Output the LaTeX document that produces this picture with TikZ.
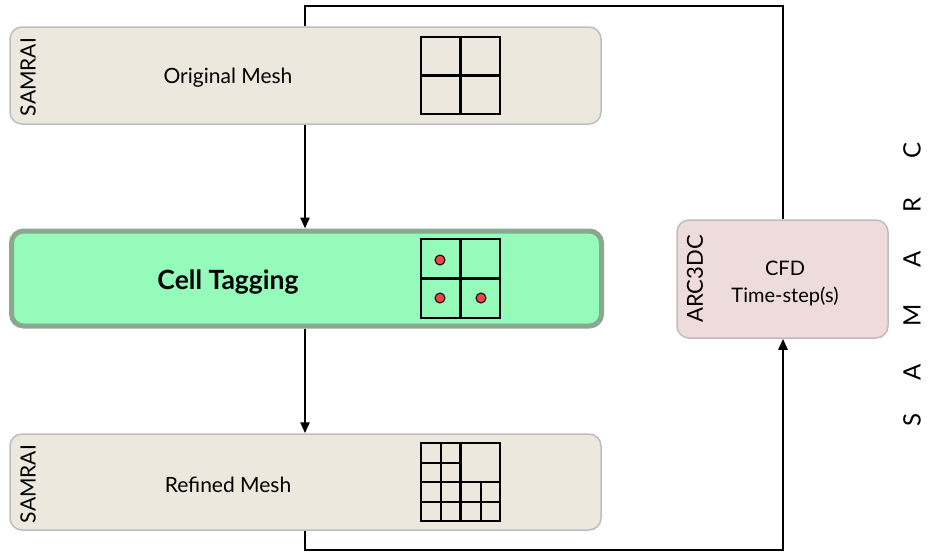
\documentclass[tikz,border=0pt]{standalone}
\usepackage{fontspec}
\setmainfont{Lato}
\usetikzlibrary{arrows.meta}
\definecolor{beige}{HTML}{ECE8DD}
\definecolor{boxline}{HTML}{BDBDBD}
\definecolor{tagfill}{HTML}{94FBBA}
\definecolor{tagline}{HTML}{88A890}
\definecolor{pinkfill}{HTML}{EEDBDB}
\definecolor{dotred}{HTML}{F04545}
\tikzset{
  meshbox/.style={draw=boxline, line width=1.5pt, fill=beige, rounded corners=12pt, inner sep=0pt},
  tagbox/.style={draw=tagline, line width=5pt, fill=tagfill, rounded corners=12pt, inner sep=0pt},
  cfdbox/.style={draw=boxline, line width=1.5pt, fill=pinkfill, rounded corners=12pt, inner sep=0pt},
  sidelabel/.style={rotate=90, font=\fontsize{21}{24}\selectfont, inner sep=0pt},
  maintext/.style={font=\fontsize{21}{24}\selectfont, inner sep=0pt},
  conn/.style={line width=2.3pt, black},
  arr/.style={conn, -{Triangle[length=11pt,width=9pt]}},
  gridline/.style={line width=2.3pt, black},
  tagdot/.style={circle, draw=black, line width=1pt, fill=dotred, minimum size=10pt, inner sep=0pt},
  letter/.style={rotate=90, font=\fontsize{24}{26}\selectfont, inner sep=0pt}
}
\begin{document}
\begin{tikzpicture}[x=1pt,y=-1pt]
\useasboundingbox (0,0) rectangle (928,557);
% boxes
\node[meshbox, minimum width=591pt, minimum height=97pt] (orig) at (305.5,75.5) {};
\node[tagbox, minimum width=590pt, minimum height=95pt] (tag) at (306.5,278.5) {};
\node[meshbox, minimum width=591pt, minimum height=96pt] (ref) at (305.5,482) {};
\node[cfdbox, minimum width=211pt, minimum height=118pt] (cfd) at (782.5,279) {};
% labels
\node[sidelabel] (s1) at (28,77) {SAMRAI};
\node[sidelabel] (s3) at (28,484) {SAMRAI};
\node[sidelabel, font=\fontsize{22}{24}\selectfont] (arc) at (695,279) {ARC3DC};
\node[maintext] (t1) at (228,78) {Original Mesh};
\node[font=\fontsize{26.5}{28}\selectfont\bfseries, inner sep=0pt] (t2) at (228,282) {Cell Tagging};
\node[maintext] (t3) at (228,485) {Refined Mesh};
\node[align=center, font=\fontsize{20}{27}\selectfont, inner sep=0pt] (t4) at (785,283) {CFD\\Time-step(s)};
% SAMARC
\node[letter] (l1) at (912,420) {S};
\node[letter] (l2) at (912,372) {A};
\node[letter] (l3) at (912,315) {M};
\node[letter] (l4) at (912,259) {A};
\node[letter] (l5) at (912,205) {R};
\node[letter] (l6) at (912,150) {C};
% grid 1
\draw[gridline] (421,37) rectangle (500,114);
\draw[gridline] (460.5,37) -- (460.5,114) (421,75.5) -- (500,75.5);
% grid 2
\draw[gridline] (421,239) rectangle (500,318);
\draw[gridline] (460.5,239) -- (460.5,318) (421,278.5) -- (500,278.5);
\node[tagdot] (d1) at (440,260) {};
\node[tagdot] (d2) at (440,298) {};
\node[tagdot] (d3) at (481,298) {};
% grid 3
\draw[gridline] (421,443) rectangle (500,521);
\draw[gridline] (460.5,443) -- (460.5,521) (421,482) -- (500,482);
\draw[gridline] (440.7,443) -- (440.7,521) (480.7,482) -- (480.7,521);
\draw[gridline] (421,463) -- (460.5,463) (421,502) -- (500,502);
% connectors
\coordinate (c1) at (305,550);
\coordinate (c2) at (783,550);
\coordinate (c3) at (783,6);
\coordinate (c4) at (305,6);
\draw[arr] (orig.south -| c4) -- (tag.north -| c4);
\draw[arr] (tag.south -| c4) -- (ref.north -| c4);
\draw[arr] (ref.south -| c1) -- (c1) -- (c2) -- (cfd.south -| c2);
\draw[conn] (cfd.north -| c3) -- (c3) -- (c4) -- (orig.north -| c4);
\end{tikzpicture}
\end{document}
